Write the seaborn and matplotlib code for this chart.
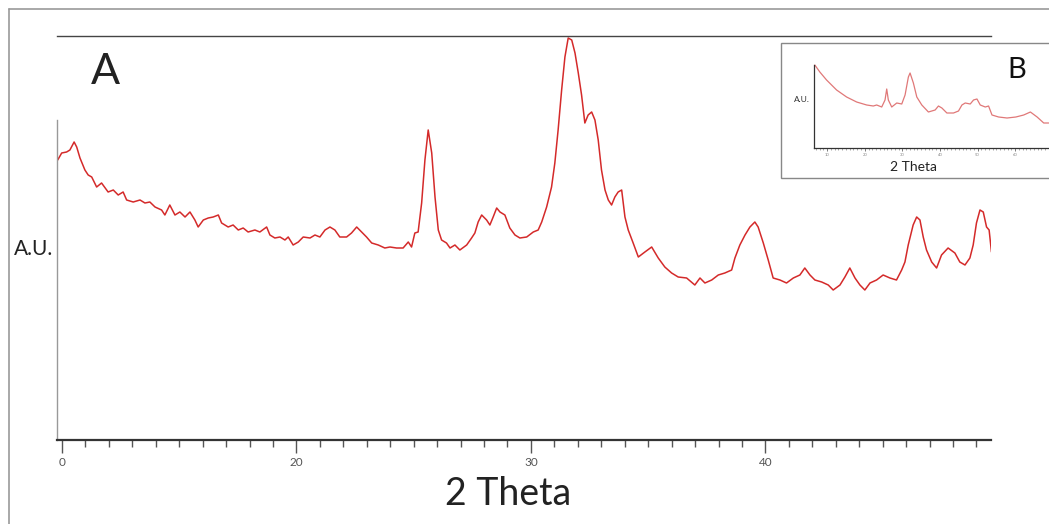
import numpy as np
import matplotlib
matplotlib.use("Agg")
import matplotlib.pyplot as plt
from matplotlib.lines import Line2D
from matplotlib.patches import Rectangle
from matplotlib.ticker import MultipleLocator, FixedLocator
import seaborn as sns

# Panel A: XRD pattern (2 theta in degrees, intensity in arbitrary units)
main_theta = [
    9.82, 9.99, 10.20, 10.34, 10.52, 10.63, 10.77, 10.98, 11.12, 11.27, 11.48, 11.69,
    11.97, 12.19, 12.40, 12.61, 12.76, 13.04, 13.33, 13.54, 13.75, 13.97, 14.25, 14.39,
    14.60, 14.82, 15.03, 15.25, 15.46, 15.67, 15.81, 16.03, 16.24, 16.45, 16.67, 16.81,
    17.09, 17.30, 17.52, 17.73, 17.94, 18.23, 18.44, 18.73, 18.87, 19.08, 19.30, 19.51,
    19.65, 19.86, 20.08,
    20.29, 20.58, 20.79, 21.00, 21.22, 21.43, 21.64, 21.85, 22.14, 22.35, 22.57, 22.78,
    22.99, 23.21, 23.49, 23.77, 23.99, 24.27, 24.55, 24.77, 24.91, 25.05, 25.19, 25.34,
    25.48, 25.62, 25.77, 25.91, 26.05, 26.19, 26.40, 26.55, 26.76, 26.97, 27.26, 27.47,
    27.61, 27.75, 27.90, 28.11, 28.25, 28.39, 28.54, 28.68, 28.89, 29.10, 29.32, 29.53,
    29.82,
    30.10, 30.31, 30.46, 30.67, 30.88, 31.02, 31.16, 31.31, 31.45, 31.59, 31.74, 31.88,
    32.02, 32.16, 32.30, 32.44, 32.59, 32.73, 32.87, 33.01, 33.16, 33.30, 33.44, 33.58,
    33.72, 33.87, 34.01, 34.15, 34.36, 34.58,
    34.86, 35.15, 35.43, 35.71, 36.00, 36.28, 36.64, 36.99, 37.21, 37.42, 37.71, 37.99,
    38.27, 38.56, 38.70, 38.91, 39.13, 39.34, 39.55, 39.69, 39.91, 40.12, 40.33, 40.62,
    40.90, 41.19, 41.47, 41.68, 41.90, 42.11, 42.40, 42.68, 42.89, 43.18, 43.39, 43.60,
    43.82, 44.03, 44.24, 44.46, 44.74, 45.02, 45.31, 45.59, 45.81, 45.95, 46.09, 46.30,
    46.45, 46.59, 46.73, 46.87, 47.09, 47.30, 47.51, 47.79, 48.08, 48.29, 48.51, 48.72,
    48.86, 49.00, 49.15, 49.29, 49.43, 49.54, 49.64,
]
main_counts = [
    280, 287, 288, 290, 298, 293, 282, 270, 265, 263, 253, 257,
    248, 250, 245, 248, 240, 238, 240, 237, 238, 233, 230, 225,
    235, 225, 228, 223, 228, 220, 213, 220, 222, 223, 225, 217,
    213, 215, 210, 212, 208, 210, 208, 213, 205, 202, 203, 200,
    203, 195, 198,
    203, 202, 205, 203, 210, 213, 210, 203, 203, 207, 213, 208,
    203, 197, 195, 192, 193, 192, 192, 198, 193, 207, 208, 237,
    280, 310, 287, 243, 210, 200, 197, 192, 195, 190, 195, 202,
    207, 218, 225, 220, 215, 223, 232, 228, 225, 212, 205, 202,
    203,
    208, 210, 218, 233, 253, 277, 310, 350, 383, 402, 400, 387,
    367, 345, 317, 325, 328, 320, 300, 270, 250, 240, 235, 243,
    248, 250, 223, 210, 197, 183,
    188, 193, 182, 173, 167, 163, 162, 155, 162, 157, 160, 165,
    167, 170, 182, 195, 205, 213, 218, 213, 197, 180, 162, 160,
    157, 162, 165, 172, 165, 160, 158, 155, 150, 155, 163, 172,
    162, 155, 150, 157, 160, 165, 162, 160, 170, 178, 195, 215,
    223, 220, 203, 190, 178, 172, 185, 192, 187, 178, 175, 182,
    195, 217, 230, 228, 213, 210, 188,
]

# Panel B: second sample over a wider range
inset_theta = [
    6.72, 8.05, 9.84, 12.51, 15.17, 17.84, 20.51, 22.27, 23.17, 24.51, 25.39, 25.84,
    26.27, 27.17, 28.51, 29.84, 30.72, 31.60, 32.05, 32.93, 33.84, 35.17, 36.93, 38.72,
    39.60, 40.51, 41.84, 43.60, 44.93, 45.84, 46.72, 48.05, 48.93, 49.84, 50.72, 52.05,
    52.93, 53.84, 55.60, 57.84, 60.19, 62.27, 64.05, 65.84, 67.60, 68.93,
]
inset_counts = [
    83, 76, 68, 58, 51, 46, 43, 42, 43, 41, 48, 59,
    48, 41, 45, 44, 53, 71, 75, 65, 51, 43, 36, 38,
    42, 40, 35, 35, 37, 43, 45, 44, 48, 49, 43, 41,
    42, 33, 31, 30, 31, 33, 36, 31, 25, 25,
]

main_ticks = [10, 20, 30, 40]
main_tick_labels = ["0", "20", "30", "40"]
inset_ticks = [10, 20, 30, 40, 50, 60]

sns.set_style("white")
plt.rcParams["font.family"] = ["Lato", "DejaVu Sans"]

W, H = 1049, 524
fig = plt.figure(figsize=(W / 100, H / 100), dpi=100)

# outer frame (left and top edges only visible)
fig.add_artist(Line2D([9 / W, 9 / W], [0, 1 - 9 / H], color="#999999", lw=1.2))
fig.add_artist(Line2D([9 / W, 1], [1 - 9 / H, 1 - 9 / H], color="#999999", lw=1.2))

# main panel
ax = fig.add_axes([57 / W, 84 / H, 934 / W, 404 / H])
sns.lineplot(x=main_theta, y=main_counts, ax=ax, color="#d42a2a", lw=1.1, estimator=None)
ax.set_xlim(9.79, 49.62)
ax.set_ylim(0, 404)

ax.spines["right"].set_visible(False)
ax.spines["top"].set_color("#444444")
ax.spines["top"].set_linewidth(1.0)
ax.spines["bottom"].set_color("#333333")
ax.spines["bottom"].set_linewidth(1.6)
ax.spines["left"].set_color("#999999")
ax.spines["left"].set_linewidth(1.0)
ax.spines["left"].set_bounds(0, 320)

ax.set_yticks([])
ax.xaxis.set_major_locator(FixedLocator(main_ticks))
ax.set_xticklabels(main_tick_labels)
ax.xaxis.set_minor_locator(MultipleLocator(1))
ax.tick_params(axis="x", which="major", direction="out", length=9, width=1,
               color="#555555", labelsize=8.5, labelcolor="#555555", pad=3, bottom=True)
ax.tick_params(axis="x", which="minor", direction="out", length=5, width=1,
               color="#555555", bottom=True)

ax.set_xlabel("2 Theta", fontsize=27, color="#222222")
ax.xaxis.set_label_coords(0.483, -0.088)
ax.set_ylabel("A.U.", rotation=0, fontsize=15, color="#222222", va="center", ha="center")
ax.yaxis.set_label_coords(-0.025, 0.473)
ax.text(0.0514, 0.911, "A", transform=ax.transAxes, fontsize=31, color="#222222",
        ha="center", va="center")

# panel B inset frame
fig.add_artist(Rectangle((781 / W, 1 - 178 / H), 0.3, 135 / H, transform=fig.transFigure,
                         facecolor="white", edgecolor="#888888", lw=1.0, zorder=1))

axb = fig.add_axes([814 / W, 1 - 148 / H, (1049 - 814) / W, 90 / H])
axb.set_zorder(3)
sns.lineplot(x=inset_theta, y=inset_counts, ax=axb, color="#e07878", lw=0.9, estimator=None)
axb.set_xlim(6.5, 69.0)
axb.set_ylim(0, 90)
axb.patch.set_alpha(0)
axb.spines["top"].set_visible(False)
axb.spines["right"].set_visible(False)
axb.spines["left"].set_color("#333333")
axb.spines["left"].set_linewidth(0.9)
axb.spines["left"].set_bounds(0, 83)
axb.spines["bottom"].set_color("#333333")
axb.spines["bottom"].set_linewidth(0.9)
axb.set_yticks([])
axb.xaxis.set_major_locator(FixedLocator(inset_ticks))
axb.xaxis.set_minor_locator(MultipleLocator(1))
axb.tick_params(axis="x", which="major", length=2.5, width=0.6, color="#666666",
                labelsize=3, labelcolor="#888888", pad=1, bottom=True)
axb.tick_params(axis="x", which="minor", length=1.2, width=0.5, color="#888888", bottom=True)

fig.text(802 / W, 1 - 100 / H, "A.U.", fontsize=6, color="#333333", ha="center", va="center",
         zorder=4)
fig.text(913 / W, 1 - 167 / H, "2 Theta", fontsize=10, color="#222222", ha="center",
         va="center", zorder=4)
fig.text(1017 / W, 1 - 70 / H, "B", fontsize=21, color="#111111", ha="center", va="center",
         zorder=4)

fig.savefig("out.png", dpi=100)
